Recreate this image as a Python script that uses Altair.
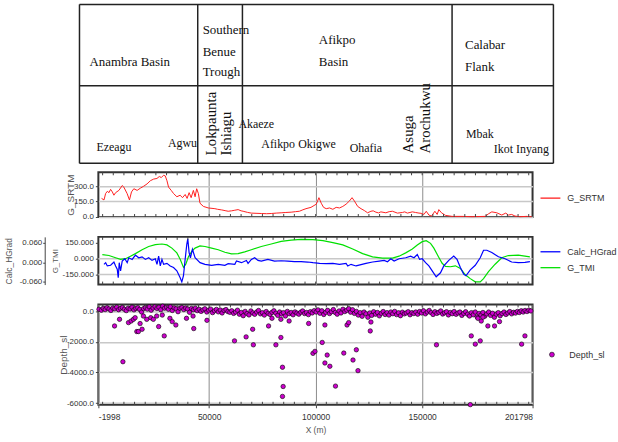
import altair as alt
import pandas as pd

XDOM = [-1998, 201798]
W = 437

# ---------------- series (x in m, value) ----------------
srtm = [(-500,181),(650,166),(1400,228),(2200,250),(3000,237),(3750,269),(4550,244),(5300,212),(6100,237),
(7650,259),(9200,306),(9950,291),(11500,228),(12600,166),(13550,244),(14650,275),(16200,259),(17750,281),
(19300,300),(20850,322),(22400,353),(23950,369),(25500,375),(26600,394),(27550,384),(28600,406),(29400,400),
(30200,353),(30950,291),(32200,259),(33300,228),(34850,197),(36400,212),(37500,188),(38750,219),(39650,181),
(40600,237),(41550,188),(42600,259),(43400,197),(44150,275),(44950,228),(45700,134),(47300,103),(49600,88),
(52700,81),(54000,75),(55850,69),(57500,62),(58950,56),(60500,60),(62050,66),(63600,72),(65000,60),(65950,56),
(68000,45),(69800,38),(72000,36),(74500,34),(77000,32),(79150,34),(81500,38),(83800,41),(86000,44),(88500,47),
(90500,52),(92350,56),(94000,70),(95450,81),(97800,94),(100290,125),(101530,188),(102620,134),(103710,94),
(104950,81),(106510,88),(108060,75),(109620,94),(111170,88),(112730,103),(114280,125),(115840,156),(117080,188),
(118170,156),(119720,103),(121280,81),(122830,63),(124380,41),(125940,56),(127000,60),(128270,47),(129500,40),
(130600,50),(132930,41),(134500,52),(136040,56),(138380,38),(140710,44),(141800,50),(143040,38),(145370,50),
(146900,44),(148480,38),(149500,36),(150810,25),(151900,56),(153140,19),(154390,9),(155940,56),(157030,25),
(157810,72),(159050,41),(160920,16),(164020,6),(168690,6),(173350,3),(179570,6),(181120,31),(182680,50),
(185010,41),(187340,19),(189210,38),(190450,19),(192010,25),(193560,9),(195890,3),(198980,6),(201330,3)]

g_tmi = [(-133,39),(2976,30),(6085,9),(8417,-6),(10750,0),(13080,24),(15410,48),(18520,85),(21630,115),
(24740,133),(27850,139),(30180,130),(32510,100),(34840,55),(36400,-6),(37950,-82),(39040,-52),(40280,18),
(41840,70),(43390,100),(45720,121),(48060,115),(51170,100),(54280,85),(57380,61),(60490,45),(63600,48),
(66710,64),(69820,85),(74480,115),(79150,139),(83810,164),(88480,175),(93140,182),(98735,180),(103400,170),
(108060,152),(112730,130),(117390,91),(122050,48),(126720,18),(131380,6),(136040,6),(139150,24),(142260,55),
(145370,91),(147700,130),(150030,161),(151900,170),(153920,145),(155480,100),(157500,24),(159360,-43),
(160920,-73),(163250,-76),(165580,-67),(167910,-91),(170240,-152),(172570,-188),(174900,-218),(177240,-218),
(178790,-188),(181120,-121),(184230,-52),(187340,9),(190450,30),(195110,33),(198220,24),(200550,18)]

calc_hgrad = [(645,-0.006),(1422,-0.001),(2199,-0.011),(3754,-0.009),(5308,0.001),(6085,-0.011),(6863,-0.021),
(7329,-0.047),(7795,-0.001),(8417,-0.026),(9194,0.004),(10438,0.011),(11526,-0.001),(12303,0.014),(13858,0.009),
(15412,0.022),(16967,0.014),(18521,0.017),(20076,0.009),(21630,0.014),(23185,0.006),(24739,0.011),(25517,-0.006),
(26294,0.019),(27071,-0.011),(27848,0.009),(28625,-0.006),(30180,-0.003),(31735,-0.011),(33289,-0.016),
(34844,-0.026),(36398,-0.047),(37175,-0.060),(37953,-0.041),(38730,0.009),(39507,0.055),(39974,0.072),
(40595,0.030),(41217,0.014),(42150,0.040),(43394,0.014),(45725,-0.001),(48057,-0.006),(51166,-0.009),
(54275,-0.006),(57384,-0.009),(58938,-0.004),(62047,-0.006),(62824,0.004),(65156,-0.001),(67488,0.006),
(68265,-0.003),(69819,0.009),(71374,0.014),(72928,0.006),(74483,0.004),(77592,0.009),(80701,0.004),
(83810,0.005),(86919,0.004),(90028,0.002),(93137,0.002),(96246,0.001),(98735,-0.001),(101844,-0.003),
(104953,-0.004),(108062,-0.003),(111171,-0.006),(114280,-0.003),(115057,-0.011),(116612,-0.006),
(118944,-0.011),(121275,-0.007),(123607,-0.003),(126716,0.001),(129825,0.004),(132157,0.006),(133711,0.002),
(135266,0.011),(136820,0.004),(139152,0.011),(142261,0.014),(144593,0.019),(146147,0.014),(147702,0.024),
(148790,0.009),(150034,0.011),(151588,-0.001),(153143,-0.011),(154697,-0.026),(156562,-0.044),(158583,-0.032),
(160138,-0.011),(162470,0.006),(164801,0.019),(166356,0.009),(167910,-0.016),(169465,-0.036),(170553,-0.041),
(172574,-0.023),(174906,-0.009),(177237,0.014),(178792,0.037),(180346,0.037),(182678,0.030),(185787,0.017),
(188896,0.011),(192005,0.001),(195114,-0.001),(198223,0.000),(200555,0.002)]

depth_band = [(-1700,120),(-600,60),(300,180),(1200,100),(2100,220),(3000,140),(3900,40),(4800,200),(5700,150),
(6600,260),(7500,90),(8400,180),(9300,230),(10200,120),(11100,30),(12000,190),(12900,140),(13800,250),(14700,80),
(15600,170),(16500,220),(17400,110),(18300,-60),(19200,160),(20100,240),(21000,130),(21900,280),(22800,60),
(23700,200),(24600,300),(25500,170),(26400,250),(27300,90),(28200,320),(29100,190),(30000,260),(30900,120),
(31800,280),(32700,40),(33600,210),(34500,150),(35400,-40),(36300,180),(37200,230),(38100,100),(39000,200),
(39900,140),(40800,-80),(41700,170),(42600,90),(43500,190),(44400,30),(45300,120),(46200,-20),(47100,80),
(48000,150),(48900,-60),(49800,60),(50700,130),(51600,-100),(52500,20),(53400,110),(54300,-50),(55200,70),
(56100,-120),(57000,40),(57900,100),(58800,-30),(59700,-80),(60600,20),(61500,-150),(62400,-60),(63300,60),
(64200,-200),(65100,-90),(66000,-300),(66900,-20),(67800,-160),(68700,-250),(69600,10),(70500,-120),(71400,-210),
(72300,-60),(73200,40),(74100,-180),(75000,-100),(75900,-260),(76800,-30),(77700,-150),(78600,-220),(79500,-80),
(80400,20),(81300,-140),(82200,-280),(83100,-60),(84000,-190),(84900,-100),(85800,-320),(86700,-20),(87600,-170),
(88500,-90),(89400,-240),(90300,-50),(91200,-130),(92100,-200),(93000,-70),(93900,10),(94800,-160),(95700,-90),
(96600,-230),(97500,-40),(98400,-120),(99300,30),(100200,-60),(101100,80),(102000,-140),(102900,20),(103800,-220),
(104700,-80),(105600,50),(106500,-160),(107400,-40),(108300,100),(109200,-90),(110100,-200),(111000,10),
(111900,-120),(112800,120),(113700,-30),(114600,60),(115500,160),(116400,-70),(117300,90),(118200,-150),
(119100,-20),(120000,-260),(120900,-100),(121800,-340),(122700,-60),(123600,-180),(124500,-400),(125400,-120),
(126300,-280),(127200,-40),(128100,-200),(129000,-90),(129900,-310),(130800,-140),(131700,-30),(132600,-220),
(133500,-100),(134400,-260),(135300,-60),(136200,-170),(137100,-20),(138000,-230),(138900,-110),(139800,-300),
(140700,-70),(141600,-180),(142500,-120),(143400,-40),(144300,-240),(145200,-100),(146100,-160),(147000,-60),
(147900,-200),(148800,-30),(149700,-120),(150600,20),(151500,-180),(152400,-60),(153300,40),(154200,-100),
(155100,-220),(156000,-40),(156900,-150),(157800,-80),(158700,10),(159600,-190),(160500,-110),(161400,-40),
(162300,-250),(163200,-90),(164100,-170),(165000,-30),(165900,-210),(166800,-120),(167700,-60),(168600,-280),
(169500,-150),(170400,-40),(171300,-200),(172200,-320),(173100,-100),(174000,-240),(174900,-60),(175800,-380),
(176700,-150),(177600,-260),(178500,-90),(179400,-330),(180300,-180),(181200,-60),(182100,-280),(183000,-140),
(183900,-400),(184800,-200),(185700,-100),(186600,-300),(187500,-160),(188400,-60),(189300,-220),(190200,-120),
(191100,-30),(192000,-180),(192900,-80),(193800,-130),(194700,-20),(195600,-90),(196500,20),(197400,-60),
(198300,40),(199200,-30),(200100,60),(201000,10)]

depth_out = [(5600,-970),(7935,-537),(9520,-3300),(12150,-750),(13390,-647),(14470,-537),(15260,-430),
(16050,-1333),(16800,-1333),(17590,-815),(18520,-1184),(19140,-323),(20710,-537),(22580,-430),(23800,-537),
(25380,-323),(26300,-1010),(28000,-259),(28920,-1617),(31580,-472),(32660,-686),(34380,-906),(39370,-472),
(42450,-323),(42770,-1139),(48970,-602),(61900,-1941),(67350,-1682),(70420,-1184),(70750,-2200),(77890,-970),
(79480,-472),(81330,-2200),(83670,-1721),(84420,-3662),(84740,-4917),(84420,-5564),(83670,-537),(87540,-647),
(96700,-805),(98735,-2756),(99670,-2627),(103070,-2044),(104330,-906),(104330,-3384),(105400,-2866),
(106660,-3597),(109300,-4891),(113190,-2737),(114720,-906),(115500,-750),(117520,-3190),(119090,-2523),
(119860,-3882),(125620,-1294),(125940,-712),(156700,-2200),(173030,-1617),(172570,-6100),(174920,-2155),
(177250,-1941),(177720,-647),(180820,-970),(183950,-970),(186280,-686),(196670,-2155),(198220,-1617),
(176150,-472),(178500,-400)]

# ---------------- header table ----------------
basin_text = ["Anambra Basin", "Southern", "Benue", "Trough", "Afikpo", "Basin", "Calabar", "Flank"]
basin_x = [-6200, 46970, 46970, 46970, 101500, 101500, 170100, 170100]
basin_t = [58.5, 26, 48, 68, 36, 58, 41, 63]
town_text = ["Ezeagu", "Agwu", "Akaeze", "Afikpo", "Okigwe", "Ohafia", "Mbak", "Ikot Inyang"]
town_x = [-2930, 30650, 63760, 74480, 91800, 115990, 170550, 183610]
town_t = [144, 140, 120, 141, 141, 144.5, 130.5, 145.5]
vtown_text = ["Lokpaunta", "Ishiagu", "Asuga", "Arochukwu"]
vtown_x = [51030, 58020, 143500, 151430]
vtown_t = [152, 152, 150, 150]
col_edges = [-10859, 44637, 65623, 164023, 211590]
row_edges = [0, 82, 160]

x_grid = [50000, 100000, 150000]
x_labels = [-1998, 50000, 100000, 150000, 201798]
minor_x = list(range(0, 201000, 5000))

SANS = "Liberation Sans, Arial, sans-serif"
SERIF = "Liberation Serif, Times New Roman, serif"
MINUS = "replace(datum.label, '\u2212', '-')"

XS = alt.Scale(domain=XDOM, nice=False, zero=False)
TS = alt.Scale(domain=[0, 149], reverse=True, nice=False, zero=False)

# table
vr = alt.Chart(pd.DataFrame({"x": col_edges, "t0": row_edges[0], "t1": row_edges[-1]})).mark_rule(
    color="#222", strokeWidth=1.5).encode(
    x=alt.X("x:Q", scale=XS, axis=None), y=alt.Y("t0:Q", scale=TS, axis=None), y2="t1:Q")
hr = alt.Chart(pd.DataFrame({"t": row_edges, "x0": col_edges[0], "x1": col_edges[-1]})).mark_rule(
    color="#222", strokeWidth=1.5).encode(
    y=alt.Y("t:Q", scale=TS, axis=None), x=alt.X("x0:Q", scale=XS, axis=None), x2="x1:Q")
btxt = alt.Chart(pd.DataFrame({"label": basin_text, "x": basin_x, "t": basin_t})).mark_text(
    font=SERIF, fontSize=13, align="left", baseline="middle", color="#111").encode(
    x=alt.X("x:Q", scale=XS, axis=None), y=alt.Y("t:Q", scale=TS, axis=None), text="label:N")
ttxt = alt.Chart(pd.DataFrame({"label": town_text, "x": town_x, "t": town_t})).mark_text(
    font=SERIF, fontSize=12, align="left", baseline="middle", color="#111").encode(
    x=alt.X("x:Q", scale=XS, axis=None), y=alt.Y("t:Q", scale=TS, axis=None), text="label:N")
vtxt = alt.Chart(pd.DataFrame({"label": vtown_text, "x": vtown_x, "t": vtown_t})).mark_text(
    font=SERIF, fontSize=15, align="left", baseline="middle", angle=270, color="#111").encode(
    x=alt.X("x:Q", scale=XS, axis=None), y=alt.Y("t:Q", scale=TS, axis=None), text="label:N")
table = alt.layer(vr, hr, btxt, ttxt, vtxt).properties(width=W, height=149,
                                                       view=alt.ViewBackground(stroke=None))


def ticks_layer(h, xaxis):
    df = pd.DataFrame({"x": minor_x})
    top = alt.Chart(df).mark_rule(color="#444", strokeWidth=1).encode(
        x=alt.X("x:Q", scale=XS, axis=xaxis), y=alt.value(0), y2=alt.value(3))
    bot = alt.Chart(df).mark_rule(color="#444", strokeWidth=1).encode(
        x=alt.X("x:Q", scale=XS, axis=xaxis), y=alt.value(h - 3), y2=alt.value(h))
    return [top, bot]


xgrid_axis = alt.Axis(values=x_grid, grid=True, gridColor="#8c8c8c", gridWidth=1, labels=False,
                      ticks=False, domain=False, title=None)
x3_axis = alt.Axis(values=x_labels, format="d", labelFlush=True, grid=True, gridColor="#8c8c8c",
                   gridWidth=1, tickSize=3, tickColor="#444", labelPadding=5, domain=False,
                   labelFont=SANS, labelFontSize=8.5, labelColor="#333", labelExpr=MINUS,
                   title="X (m)", titleFont=SANS, titleFontSize=8.5, titleColor="#555",
                   titleFontWeight="normal", titlePadding=4)
ylab = dict(labelFont=SANS, labelFontSize=8, labelColor="#333", tickColor="#444", domain=False,
            titleFont=SANS, titleColor="#555", titleFontWeight="normal", titleAngle=270,
            titleBaseline="middle", titleAlign="center", labelExpr=MINUS)
leg = dict(title=None, orient="none", labelFont=SANS, labelFontSize=9, labelColor="#333", padding=0)

# panel 1
H1 = 45
srtm_df = pd.DataFrame(srtm, columns=["x", "v"]).assign(s="G_SRTM")
l1 = alt.Chart(srtm_df).mark_line(strokeWidth=1).encode(
    x=alt.X("x:Q", scale=XS, axis=xgrid_axis),
    y=alt.Y("v:Q", scale=alt.Scale(domain=[0, 435], nice=False, zero=False),
            axis=alt.Axis(values=[0, 150, 300], format=".1f", grid=True, gridColor="#c8c8c8", gridWidth=1.5,
                          tickSize=3, labelPadding=2, title="G_SRTM", titleFontSize=10,
                          titleX=-28, titleY=H1 / 2, **ylab)),
    color=alt.Color("s:N", scale=alt.Scale(domain=["G_SRTM"], range=["#ff2020"]),
                    legend=alt.Legend(legendX=444, legendY=15, symbolType="stroke", symbolSize=400,
                                      symbolStrokeWidth=1.3, labelOffset=6, **leg)))
p1 = alt.layer(l1, *ticks_layer(H1, xgrid_axis)).properties(width=W, height=H1)

# panel 2
H2 = 48
TMI_S = alt.Scale(domain=[-244, 206], nice=False, zero=False)
tmi_axis = alt.Axis(values=[150, 0, -150], format=".3f", grid=False, orient="left", tickSize=3,
                    labelPadding=2, title="G_TMI", titleFontSize=8, titleX=-43, titleY=H2 / 2, **ylab)
col2 = alt.Color("s:N", scale=alt.Scale(domain=["Calc_HGrad", "G_TMI"], range=["#0000ff", "#00e000"]),
                 legend=alt.Legend(legendX=444, legendY=4, symbolType="stroke", symbolSize=400,
                                   symbolStrokeWidth=1.3, labelOffset=6, rowPadding=-2, **leg))
tmi_df = pd.DataFrame(g_tmi, columns=["x", "v"]).assign(s="G_TMI")
hg_df = pd.DataFrame(calc_hgrad, columns=["x", "v"]).assign(s="Calc_HGrad")
grid2 = alt.Chart(pd.DataFrame({"g": [0, -150]})).mark_rule(color="#c8c8c8", strokeWidth=1.5).encode(
    y=alt.Y("g:Q", scale=TMI_S, axis=tmi_axis))
green = alt.Chart(tmi_df).mark_line(strokeWidth=1.2).encode(
    x=alt.X("x:Q", scale=XS, axis=xgrid_axis),
    y=alt.Y("v:Q", scale=TMI_S, axis=tmi_axis),
    color=col2)
blue = alt.Chart(hg_df).mark_line(strokeWidth=1.2).encode(
    x=alt.X("x:Q", scale=XS, axis=xgrid_axis),
    y=alt.Y("v:Q", scale=alt.Scale(domain=[-0.068, 0.078], nice=False, zero=False),
            axis=alt.Axis(values=[0.06, 0, -0.06], format=".3f", grid=False, orient="left", offset=54,
                          tickSize=2, labelPadding=1, title="Calc_HGrad", titleFontSize=8.5,
                          titleX=-36, titleY=H2 / 2,
                          **{**ylab, "domain": True}, domainColor="#444")),
    color=col2)
p2 = alt.layer(alt.layer(grid2, green), blue, *ticks_layer(H2, xgrid_axis)).resolve_scale(
    y="independent").properties(width=W, height=H2)

# panel 3
H3 = 101
dep_df = pd.DataFrame(depth_band + depth_out, columns=["x", "v"]).assign(s="Depth_sl")
pts = alt.Chart(dep_df).mark_circle(size=20, stroke="black", strokeWidth=0.6, opacity=1).encode(
    x=alt.X("x:Q", scale=XS, axis=x3_axis),
    y=alt.Y("v:Q", scale=alt.Scale(domain=[-6110, 434], nice=False, zero=False),
            axis=alt.Axis(values=[0, -2000, -4000, -6000], format=".1f", grid=True, gridColor="#c8c8c8",
                          gridWidth=1.5, tickSize=3, labelPadding=2, title="Depth_sl", titleFontSize=10,
                          titleX=-35, titleY=H3 / 2, **ylab)),
    color=alt.Color("s:N", scale=alt.Scale(domain=["Depth_sl"], range=["#cc00cc"]),
                    legend=alt.Legend(legendX=452, legendY=46, symbolType="circle", symbolSize=24,
                                      symbolStrokeColor="black", symbolStrokeWidth=0.6, labelOffset=13,
                                      **leg)))
p3 = alt.layer(pts, *ticks_layer(H3, x3_axis)).properties(width=W, height=H3)

chart = alt.vconcat(table, p1, p2, p3, spacing=20, bounds="flush").resolve_scale(
    x="independent", y="independent", color="independent").resolve_legend(color="independent").properties(
    padding={"left": 4, "top": 2, "right": 0, "bottom": 0}, background="white").configure_view(
    stroke="#333", strokeWidth=2)

chart.save("out.html", embed_options={"renderer": "svg", "actions": False})
